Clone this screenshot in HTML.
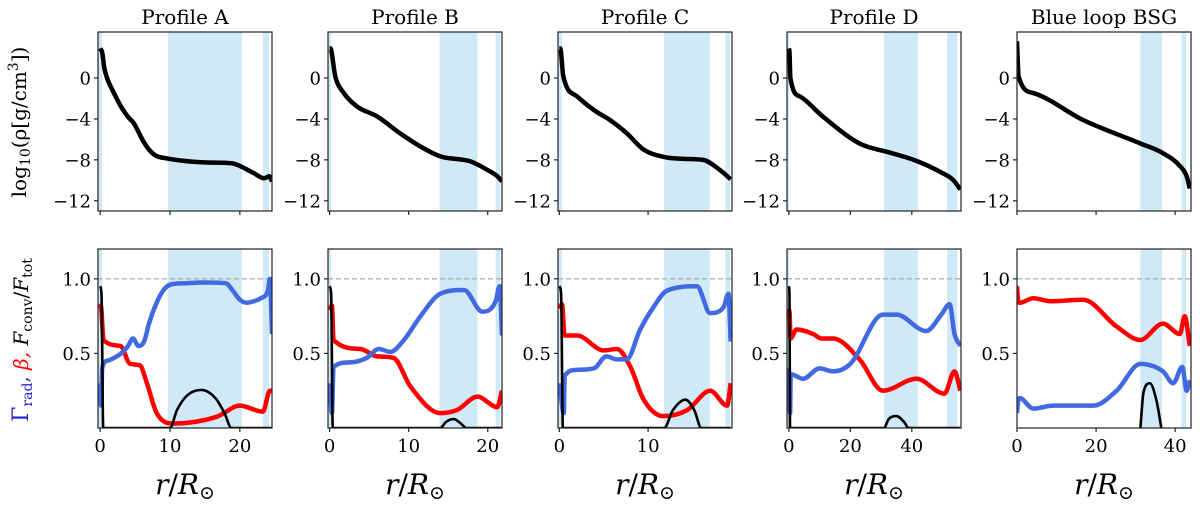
<!DOCTYPE html>
<html><head><meta charset="utf-8"><style>
body{margin:0;background:#fff;}
svg text{font-family:"DejaVu Serif","Liberation Serif",serif;}
</style></head><body>
<svg id="fig" width="1200" height="507" xmlns="http://www.w3.org/2000/svg">
<rect width="1200" height="507" fill="#fff"/>
<g transform="translate(26,122) rotate(-90)"><text x="0" y="0" text-anchor="middle" font-size="20">log<tspan font-size="14" dy="4">10</tspan><tspan dy="-4">(ρ[g/cm</tspan><tspan font-size="14" dy="-8">3</tspan><tspan dy="8">])</tspan></text></g>
<g transform="translate(28,340) rotate(-90)"><text x="0" y="0" text-anchor="middle" font-size="20"><tspan fill="#1f1fe0" font-size="22">Γ</tspan><tspan fill="#1f1fe0" font-size="14" dy="4">rad</tspan><tspan fill="#1f1fe0" dy="-4">, </tspan><tspan fill="#ff0000" font-style="italic">β, </tspan><tspan font-style="italic">F</tspan><tspan font-size="14" dy="4">conv</tspan><tspan dy="-4">/</tspan><tspan font-style="italic">F</tspan><tspan font-size="14" dy="4">tot</tspan></text></g>
</svg>
<script>
const titles=["Profile A","Profile B","Profile C","Profile D","Blue loop BSG"];
const xlims=[[-0.3,24.6],[-0.2,21.8],[-0.15,19.45],[-0.6,56],[0,44]];
const xticks=[[0,10,20],[0,10,20],[0,10],[0,20,40],[0,20,40]];
const bands=[
 [[-0.3,0.3],[9.7,20.3],[23.3,24.2]],
 [[-0.2,0.2],[13.9,18.7],[21.0,21.6]],
 [[-0.15,0.3],[11.8,16.95],[18.7,19.25]],
 [[-0.6,0.1],[31,42],[51.5,54.8]],
 [[31.2,36.7],[41.6,42.8]]];
const densX=[
 [0,0.3,0.6,1,2,3,4,4.8,6.2,7,8,9.5,12,15,18,19,20,22,23.5,24.2,24.6],
 [0,0.1,0.72,1.8,3.5,6,8.9,11.5,14,17.8,19.9,21.2,21.8],
 [0,0.1,0.45,2,4,5.7,7.6,9.5,11.7,14,16.2,18.1,19.3],
 [0,0.2,0.5,3.6,11,23,33,41.5,50,53.4,55.8],
 [0,0.15,0.4,4.1,16.7,31.2,36.7,41.2,42.9,43.7]];
const densY=[
 [2.9,2.5,1,0,-1.5,-2.8,-3.8,-4.4,-6.2,-7,-7.6,-7.85,-8.1,-8.25,-8.3,-8.35,-8.6,-9.3,-9.8,-9.6,-10.1],
 [2.9,2.9,0.16,-1.47,-2.8,-3.75,-5.4,-6.7,-7.66,-8.15,-8.96,-9.6,-10.1],
 [2.9,2.9,0.16,-1.8,-3.2,-4.1,-5.4,-7,-7.7,-7.9,-8,-9,-9.9],
 [2.9,2.6,0,-1.8,-3.75,-6.4,-7.3,-8.1,-9.3,-9.95,-10.9],
 [3.6,2,0.16,-1.47,-4.1,-6.4,-7.3,-8.6,-9.6,-10.8]];
const blueX=[
 [0,0.15,0.3,1,2,3,4,4.7,5.5,6.3,7,8,9,10,12,15,18,19,20,21,22,23,24,24.3,24.6],
 [0,0.3,0.5,2.6,4.7,6.2,7.7,9.4,11.5,14,17,19.3,21,21.5,21.8],
 [0,0.5,0.6,2,3.9,5.3,6.5,7.6,9.1,10.6,12.1,15.5,16.99,18.5,19.05,19.3],
 [0,0.4,0.6,4.6,10,14.4,20,30.6,35,44.7,49.6,52.3,53.9,55.8],
 [0,0.3,0.7,4.1,9.2,19.3,25.2,31.2,36.9,39.5,41.8,42.9,43.7]];
const blueY=[
 [0.3,0.15,0.4,0.45,0.47,0.5,0.55,0.6,0.55,0.58,0.7,0.83,0.92,0.96,0.97,0.975,0.97,0.92,0.86,0.84,0.85,0.87,0.92,1.0,0.63],
 [0.3,0.1,0.41,0.44,0.47,0.53,0.51,0.59,0.75,0.9,0.925,0.78,0.85,0.95,0.62],
 [0.3,0.1,0.35,0.39,0.4,0.48,0.46,0.46,0.66,0.81,0.92,0.95,0.77,0.81,0.9,0.58],
 [0.4,0.1,0.36,0.33,0.4,0.38,0.43,0.76,0.76,0.65,0.76,0.83,0.63,0.55],
 [0.1,0.18,0.2,0.13,0.15,0.15,0.25,0.43,0.38,0.3,0.41,0.25,0.32]];
const redX=[
 [0,0.1,0.5,2.9,4.3,5.7,6.7,8.1,10.5,16.7,20,23.3,24.3,24.6],
 [0,0.3,0.5,3.9,6,8.1,10.2,14,16.1,18.7,21.2,21.8],
 [0,0.3,0.6,2,5,6.5,8,9.5,11.7,14.4,17,18.9,19.3],
 [0,0.3,0.5,2.5,7.9,10.6,14.4,23,30.6,41.5,50.6,53.9,55.8],
 [0,0.3,0.7,4.1,8.4,16.7,25.2,31.2,36.9,41.2,42.4,43.7]];
const redY=[
 [0.8,0.82,0.59,0.55,0.43,0.42,0.3,0.1,0.03,0.075,0.15,0.11,0.25,0.25],
 [0.79,0.82,0.59,0.53,0.48,0.47,0.28,0.1,0.12,0.21,0.14,0.25],
 [0.8,0.83,0.62,0.62,0.52,0.53,0.41,0.19,0.08,0.12,0.25,0.15,0.3],
 [0.8,0.75,0.6,0.66,0.63,0.6,0.6,0.46,0.25,0.33,0.23,0.38,0.25],
 [0.95,0.85,0.84,0.87,0.85,0.86,0.68,0.59,0.7,0.63,0.75,0.55]];
const fluxX=[
 [0,0.2,0.45,10,11,12.5,14.5,16.5,17.8,18.8,24.6],
 [0,0.2,0.4,14,14.7,15.7,16.6,17.3,21.8],
 [0,0.2,0.4,11.8,12.8,14.2,15.2,16,19.3],
 [0,0.2,0.4,30.9,32.5,35,37.5,39,55.8],
 [31.2,32,33.6,35.3,36.5]];
const fluxY=[
 [0.95,0.9,0,0,0.12,0.22,0.255,0.2,0.1,0,0],
 [0.95,0.9,0,0,0.04,0.06,0.03,0,0],
 [0.95,0.9,0,0,0.12,0.19,0.12,0,0],
 [0.95,0.9,0,0,0.06,0.08,0.04,0,0],
 [0,0.24,0.3,0.18,0]];
const topTicks=[0,-4,-8,-12], botTicks=[0.5,1.0];
const lefts=[98,328,558,787,1017], W=174;
const TOP=[32,211], BOT=[249,428];
const NS="http://www.w3.org/2000/svg";
const svg=document.getElementById('fig');
function mk(t,a,p){const e=document.createElementNS(NS,t);for(const k in a)e.setAttribute(k,a[k]);(p||svg).appendChild(e);return e;}
function monoPath(px,py){
 const n=px.length;if(n<2)return"";
 const d=[],m=[];
 for(let i=0;i<n-1;i++){const dx=px[i+1]-px[i];d.push(dx===0?0:(py[i+1]-py[i])/dx);}
 m[0]=d[0];m[n-1]=d[n-2];
 for(let i=1;i<n-1;i++){m[i]=(d[i-1]*d[i]<=0)?0:(d[i-1]+d[i])/2;}
 for(let i=0;i<n-1;i++){if(d[i]===0){m[i]=0;m[i+1]=0;continue;}const a=m[i]/d[i],b=m[i+1]/d[i],s=a*a+b*b;if(s>9){const t=3/Math.sqrt(s);m[i]=t*a*d[i];m[i+1]=t*b*d[i];}}
 let s="M"+px[0].toFixed(2)+","+py[0].toFixed(2);
 for(let i=0;i<n-1;i++){const h=(px[i+1]-px[i])/3;s+=" C"+(px[i]+h).toFixed(2)+","+(py[i]+m[i]*h).toFixed(2)+" "+(px[i+1]-h).toFixed(2)+","+(py[i+1]-m[i+1]*h).toFixed(2)+" "+px[i+1].toFixed(2)+","+py[i+1].toFixed(2);}
 return s;}
for(let p=0;p<5;p++){
 const L=lefts[p],R=L+W,xl=xlims[p];
 const xs=v=>L+(v-xl[0])/(xl[1]-xl[0])*W;
 const yT=v=>TOP[0]+(4.5-v)/17.5*(TOP[1]-TOP[0]);
 const yB=v=>BOT[1]-v/1.2*(BOT[1]-BOT[0]);
 const t=mk('text',{x:(L+R)/2,y:24,'text-anchor':'middle','font-size':20});t.textContent=titles[p];
 
 
 for(const row of [0,1]){
  const [y0,y1]=row?BOT:TOP;
  const g=mk('g',{});
  
  
  const cid='c'+p+row;
  const cp=mk('clipPath',{id:cid},g);mk('rect',{x:L,y:y0,width:W,height:y1-y0},cp);
  const inner=mk('g',{'clip-path':'url(#'+cid+')'},g);
  for(const b of bands[p]){const r=mk('rect',{x:xs(b[0]),y:y0,width:xs(b[1])-xs(b[0]),height:y1-y0,fill:'#cfeaf6'},inner);
   
   }
  if(row===0){
   const pa=mk('path',{d:monoPath(densX[p].map(xs),densY[p].map(yT)),fill:'none',stroke:'#000','stroke-width':4.5,'stroke-linejoin':'round'},inner);
   
   
  }else{
   mk('line',{x1:L,x2:R,y1:yB(1),y2:yB(1),stroke:'#b0b0b0','stroke-width':1.3,'stroke-dasharray':'5,3'},inner);
   const pr=mk('path',{d:monoPath(redX[p].map(xs),redY[p].map(yB)),fill:'none',stroke:'#ff0000','stroke-width':4.5,'stroke-linejoin':'round'},inner);
   
   
   const pb=mk('path',{d:monoPath(blueX[p].map(xs),blueY[p].map(yB)),fill:'none',stroke:'#4169e1','stroke-width':4.5,'stroke-linejoin':'round'},inner);
   
   
   const pf=mk('path',{d:monoPath(fluxX[p].map(xs),fluxY[p].map(yB)),fill:'none',stroke:'#000','stroke-width':2.6,'stroke-linejoin':'round'},inner);
   
   
  }
  mk('rect',{x:L,y:y0,width:W,height:y1-y0,fill:'none',stroke:'#222','stroke-width':1.2},g);
  for(const v of xticks[p]){const x=xs(v);mk('line',{x1:x,x2:x,y1:y1,y2:y1+4,stroke:'#222','stroke-width':1.2},g);
   if(row){const tx=mk('text',{x:x,y:y1+24,'text-anchor':'middle','font-size':18},g);tx.textContent=v;}}
  const tk=row?botTicks:topTicks;
  for(const v of tk){const y=row?yB(v):yT(v);mk('line',{x1:L-4,x2:L,y1:y,y2:y,stroke:'#222','stroke-width':1.2},g);
   const tx=mk('text',{x:L-7,y:y+6.5,'text-anchor':'end','font-size':18},g);tx.textContent=row?v.toFixed(1):(v<0?'\u2212'+(-v):v);}
 }
 const xt=mk('text',{x:(L+R)/2,y:494,'text-anchor':'middle','font-size':28});
 
 
 xt.innerHTML='<tspan font-style="italic">r</tspan>/<tspan font-style="italic">R</tspan><tspan font-size="19" dy="5">\u2299</tspan>';
}
</script>
</body></html>
